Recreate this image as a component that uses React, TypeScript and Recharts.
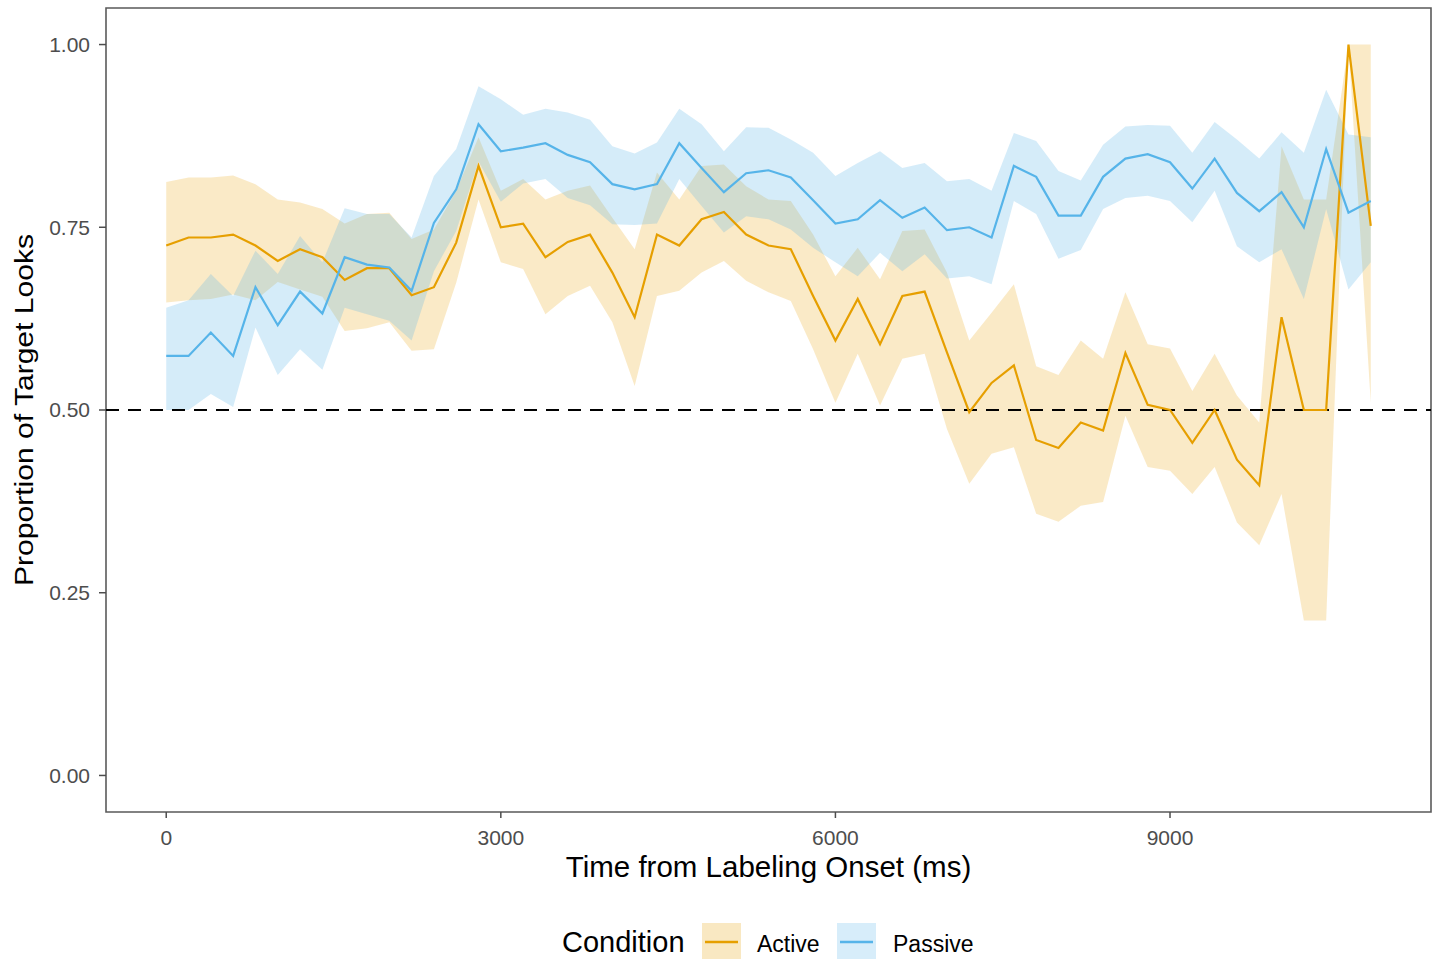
import React from "react";
import {
  ComposedChart, Area, Line, XAxis, YAxis, ReferenceLine, ReferenceArea,
} from "recharts";

const FONT = "'Liberation Sans', Arial, Helvetica, sans-serif";
const ACTIVE_COLOR = "#E69F00";
const PASSIVE_COLOR = "#56B4E9";

// time bins (ms from labeling onset)
const TIME_MS = [
  0, 200, 400, 600, 800, 1000, 1200, 1400, 1600, 1800,
  2000, 2200, 2400, 2600, 2800, 3000, 3200, 3400, 3600, 3800,
  4000, 4200, 4400, 4600, 4800, 5000, 5200, 5400, 5600, 5800,
  6000, 6200, 6400, 6600, 6800, 7000, 7200, 7400, 7600, 7800,
  8000, 8200, 8400, 8600, 8800, 9000, 9200, 9400, 9600, 9800,
  10000, 10200, 10400, 10600, 10800,
];

// Active condition: mean proportion of target looks and CI bounds
const ACTIVE_MEAN = [
  0.725, 0.736, 0.736, 0.740, 0.725, 0.704, 0.720, 0.709, 0.678, 0.694,
  0.694, 0.657, 0.668, 0.729, 0.834, 0.750, 0.755, 0.709, 0.730, 0.740,
  0.688, 0.627, 0.740, 0.725, 0.761, 0.771, 0.740, 0.725, 0.720, 0.656,
  0.595, 0.652, 0.590, 0.656, 0.662, 0.579, 0.497, 0.537, 0.561, 0.459,
  0.448, 0.483, 0.472, 0.578, 0.507, 0.500, 0.455, 0.500, 0.432, 0.397,
  0.627, 0.500, 0.500, 1.000, 0.752,
];
const ACTIVE_LOW = [
  0.647, 0.650, 0.652, 0.658, 0.650, 0.675, 0.665, 0.655, 0.608, 0.612,
  0.620, 0.581, 0.583, 0.674, 0.788, 0.702, 0.693, 0.631, 0.656, 0.670,
  0.620, 0.533, 0.656, 0.663, 0.688, 0.704, 0.677, 0.661, 0.649, 0.583,
  0.510, 0.577, 0.506, 0.570, 0.577, 0.474, 0.399, 0.440, 0.449, 0.358,
  0.347, 0.369, 0.374, 0.492, 0.422, 0.417, 0.385, 0.422, 0.346, 0.315,
  0.385, 0.212, 0.212, 1.000, 0.510,
];
const ACTIVE_HIGH = [
  0.812, 0.818, 0.818, 0.821, 0.809, 0.788, 0.784, 0.775, 0.755, 0.768,
  0.770, 0.734, 0.747, 0.800, 0.873, 0.800, 0.816, 0.788, 0.800, 0.807,
  0.763, 0.720, 0.825, 0.788, 0.834, 0.836, 0.806, 0.788, 0.786, 0.740,
  0.683, 0.722, 0.679, 0.745, 0.747, 0.688, 0.595, 0.633, 0.672, 0.560,
  0.548, 0.595, 0.570, 0.661, 0.590, 0.584, 0.526, 0.577, 0.520, 0.483,
  0.861, 0.788, 0.788, 1.000, 1.000,
];

// Passive condition
const PASSIVE_MEAN = [
  0.574, 0.574, 0.606, 0.574, 0.668, 0.616, 0.662, 0.632, 0.709, 0.699,
  0.695, 0.663, 0.756, 0.802, 0.891, 0.854, 0.859, 0.865, 0.849, 0.839,
  0.809, 0.802, 0.809, 0.865, 0.831, 0.798, 0.824, 0.828, 0.818, 0.787,
  0.755, 0.761, 0.787, 0.763, 0.777, 0.746, 0.750, 0.736, 0.834, 0.819,
  0.766, 0.766, 0.819, 0.844, 0.850, 0.839, 0.803, 0.844, 0.797, 0.772,
  0.798, 0.750, 0.857, 0.770, 0.786,
];
const PASSIVE_LOW = [
  0.500, 0.500, 0.522, 0.504, 0.613, 0.548, 0.583, 0.555, 0.640, 0.631,
  0.622, 0.595, 0.690, 0.745, 0.840, 0.785, 0.810, 0.816, 0.790, 0.780,
  0.754, 0.753, 0.755, 0.816, 0.779, 0.743, 0.765, 0.761, 0.747, 0.722,
  0.702, 0.683, 0.715, 0.690, 0.713, 0.680, 0.683, 0.672, 0.786, 0.768,
  0.707, 0.719, 0.775, 0.790, 0.793, 0.786, 0.757, 0.800, 0.724, 0.702,
  0.720, 0.652, 0.775, 0.665, 0.702,
];
const PASSIVE_HIGH = [
  0.640, 0.650, 0.686, 0.656, 0.718, 0.686, 0.738, 0.702, 0.776, 0.768,
  0.768, 0.736, 0.820, 0.857, 0.943, 0.925, 0.904, 0.912, 0.907, 0.897,
  0.861, 0.851, 0.866, 0.912, 0.891, 0.854, 0.887, 0.886, 0.870, 0.852,
  0.820, 0.838, 0.854, 0.831, 0.838, 0.813, 0.816, 0.800, 0.879, 0.868,
  0.827, 0.814, 0.863, 0.888, 0.890, 0.889, 0.852, 0.894, 0.870, 0.844,
  0.880, 0.852, 0.938, 0.877, 0.873,
];

const X_TICKS = [0, 3000, 6000, 9000];
const Y_TICKS = [0, 0.25, 0.5, 0.75, 1];
const CHANCE = 0.5;

// ggplot-style 5% expansion on both axes
const X_DOMAIN: [number, number] = [-540, 11340];
const Y_DOMAIN: [number, number] = [-0.05, 1.05];

const rows = TIME_MS.map((t, i) => ({
  time: t,
  active: ACTIVE_MEAN[i],
  passive: PASSIVE_MEAN[i],
  activeBand: [ACTIVE_LOW[i], ACTIVE_HIGH[i]],
  passiveBand: [PASSIVE_LOW[i], PASSIVE_HIGH[i]],
}));

const YTitle = ({ viewBox }: any) => {
  const cy = viewBox.y + viewBox.height / 2;
  const x = 33;
  return (
    <text
      x={x}
      y={cy}
      transform={`rotate(-90, ${x}, ${cy})`}
      textAnchor="middle"
      fontSize={26}
      fontFamily={FONT}
      textLength={352}
      lengthAdjust="spacingAndGlyphs"
      fill="#000"
    >
      Proportion of Target Looks
    </text>
  );
};

const XTitle = ({ viewBox }: any) => (
  <text
    x={viewBox.x + viewBox.width / 2}
    y={877}
    textAnchor="middle"
    fontSize={29.5}
    fontFamily={FONT}
    fill="#000"
  >
    Time from Labeling Onset (ms)
  </text>
);

function LegendKey({ x, color }: { x: number; color: string }) {
  return (
    <g>
      <rect x={x} y={923} width={39} height={40} fill={color} fillOpacity={0.24} />
      <line x1={x + 3} x2={x + 36} y1={942} y2={942} stroke={color} strokeWidth={2.6} />
    </g>
  );
}

export default function App() {
  return (
    <div style={{ position: "absolute", left: 0, top: 0, width: 1434, height: 959, background: "#fff" }}>
      <ComposedChart
        width={1434}
        height={959}
        data={rows}
        margin={{ top: 8, right: 3, bottom: 0, left: 0 }}
      >
        <XAxis
          dataKey="time"
          type="number"
          domain={X_DOMAIN}
          ticks={X_TICKS}
          allowDataOverflow
          height={147}
          axisLine={false}
          tickSize={6}
          tickMargin={12}
          tickLine={{ stroke: "#4d4d4d", strokeWidth: 1.5 }}
          tick={{ fill: "#4d4d4d", fontSize: 21, fontFamily: FONT }}
          label={(p: any) => <XTitle {...p} />}
        />
        <YAxis
          type="number"
          domain={Y_DOMAIN}
          ticks={Y_TICKS}
          allowDataOverflow
          width={106}
          axisLine={false}
          tickSize={7}
          tickMargin={9}
          tickLine={{ stroke: "#4d4d4d", strokeWidth: 1.5 }}
          tick={{ fill: "#4d4d4d", fontSize: 21, fontFamily: FONT }}
          tickFormatter={(v: number) => v.toFixed(2)}
          label={(p: any) => <YTitle {...p} />}
        />
        <ReferenceLine
          y={CHANCE}
          stroke="#000"
          strokeWidth={2.2}
          strokeDasharray="13 9"
        />
        <Area
          dataKey="activeBand"
          type="linear"
          stroke="none"
          fill={ACTIVE_COLOR}
          fillOpacity={0.22}
          isAnimationActive={false}
        />
        <Area
          dataKey="passiveBand"
          type="linear"
          stroke="none"
          fill={PASSIVE_COLOR}
          fillOpacity={0.25}
          isAnimationActive={false}
        />
        <Line
          dataKey="active"
          type="linear"
          stroke={ACTIVE_COLOR}
          strokeWidth={2.2}
          dot={false}
          activeDot={false}
          isAnimationActive={false}
        />
        <Line
          dataKey="passive"
          type="linear"
          stroke={PASSIVE_COLOR}
          strokeWidth={2.2}
          dot={false}
          activeDot={false}
          isAnimationActive={false}
        />
        {/* panel border */}
        <ReferenceArea
          x1={X_DOMAIN[0]}
          x2={X_DOMAIN[1]}
          y1={Y_DOMAIN[0]}
          y2={Y_DOMAIN[1]}
          fill="none"
          stroke="#5a5a5a"
          strokeWidth={1.6}
          ifOverflow="visible"
        />
      </ComposedChart>

      {/* legend along the bottom */}
      <svg
        width={1434}
        height={959}
        style={{ position: "absolute", left: 0, top: 0, pointerEvents: "none" }}
      >
        <text x={562} y={952} fontSize={29} fontFamily={FONT} fill="#000">Condition</text>
        <LegendKey x={702} color={ACTIVE_COLOR} />
        <text x={757} y={952} fontSize={23} fontFamily={FONT} fill="#000">Active</text>
        <LegendKey x={837} color={PASSIVE_COLOR} />
        <text x={893} y={952} fontSize={23} fontFamily={FONT} fill="#000">Passive</text>
      </svg>
    </div>
  );
}
